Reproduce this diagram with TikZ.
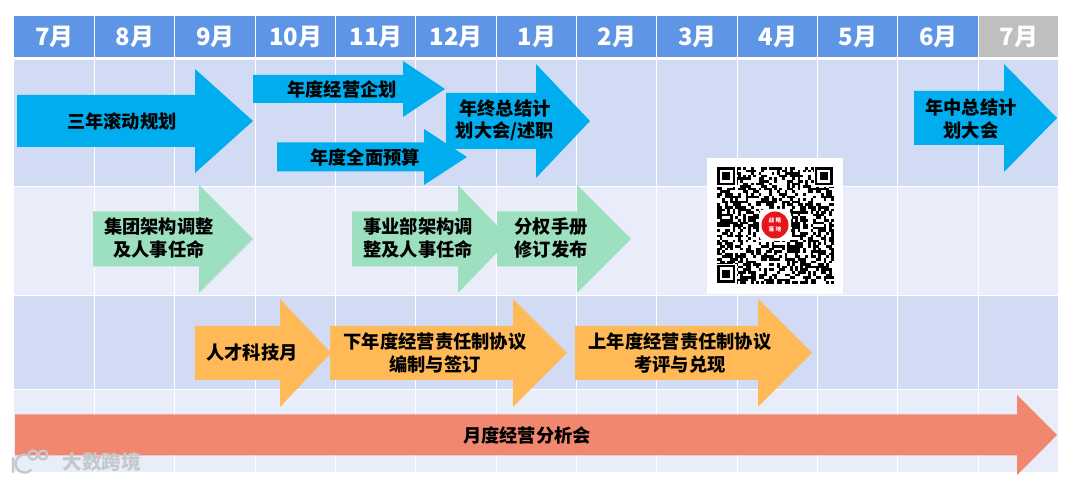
\documentclass[tikz,border=0pt]{standalone}
\usepackage{fontspec}
\setmainfont{Noto Sans CJK SC}
\usetikzlibrary{calc}
\definecolor{headblue}{HTML}{5F95E5}
\definecolor{headgray}{HTML}{BFBFBF}
\definecolor{rowdark}{HTML}{D1DBF3}
\definecolor{rowlight}{HTML}{E9EDF9}
\definecolor{arrowblue}{HTML}{00AEEF}
\definecolor{arrowgreen}{HTML}{9CE0C0}
\definecolor{arroworange}{HTML}{FFB957}
\definecolor{arrowred}{HTML}{F2876F}
\definecolor{sealred}{HTML}{E8141C}
\definecolor{markgray}{HTML}{C4C7CC}
\tikzset{
  monthlabel/.style={text=white,font=\fontsize{13.6}{15}\selectfont\bfseries,inner sep=0pt},
  arrowlabel/.style={text=black,font=\fontsize{10.4}{12.6}\selectfont\bfseries,align=center,inner sep=0pt},
  gridline/.style={draw=white,line width=.6pt}
}
% x0, neck, tip, middle, half body, half head
\newcommand{\bigarrow}[7]{\fill[#1] (#2,#5-#6) -- (#3,#5-#6) -- (#3,#5-#7) -- (#4,#5) -- (#3,#5+#7) -- (#3,#5+#6) -- (#2,#5+#6) -- cycle;}
\begin{document}
\begin{tikzpicture}[x=0.02cm,y=-0.02cm]
\useasboundingbox (0,0) rectangle (1080,482);
% rows
\fill[rowdark] (14,60) rectangle (1058,186); \fill[rowlight] (14,187) rectangle (1058,295);
\fill[rowdark] (14,296) rectangle (1058,389); \fill[rowlight] (14,390) rectangle (1058,472);
% months
\foreach \m [count=\i from 0] in {7,8,9,10,11,12,1,2,3,4,5,6,7}{
  \pgfmathsetmacro{\xl}{14+80.35*\i}
  \ifnum\i=12 \fill[headgray] (\xl,16) rectangle (1058,57); \else \fill[headblue] (\xl,16) rectangle (\xl+80.35,57); \fi
  \node[monthlabel] (month\i) at (\xl+40.6,37) {\m 月};
  \ifnum\i>0 \draw[gridline] (\xl,16) -- (\xl,57); \draw[gridline] (\xl,60) -- (\xl,472); \fi
}
% blue
\bigarrow{arrowblue}{17}{195}{253}{121}{26}{52}
\bigarrow{arrowblue}{253}{403}{445}{89}{14}{28}
\bigarrow{arrowblue}{446}{536}{590}{121}{28}{57}
\bigarrow{arrowblue}{277}{424}{467}{157}{14.5}{28}
\bigarrow{arrowblue}{914}{1004}{1057}{118}{27}{54}
\node[arrowlabel] (plan) at (122,121) {三年滚动规划};
\node[arrowlabel] (bizplan) at (342,89) {年度经营企划};
\node[arrowlabel] (budget) at (365,158) {年度全面预算};
\node[arrowlabel] (yearend) at (505,120) {年终总结计\\划大会/述职};
\node[arrowlabel] (midyear) at (971,119) {年中总结计\\划大会};
% green
\bigarrow{arrowgreen}{93}{199}{253}{239}{27.5}{54}
\bigarrow{arrowgreen}{352}{458}{510}{239}{27.5}{54}
\bigarrow{arrowgreen}{497}{577}{631}{239}{27.5}{54}
\node[arrowlabel] (grouporg) at (159,238) {集团架构调整\\及人事任命};
\node[arrowlabel] (unitorg) at (418,238) {事业部架构调\\整及人事任命};
\node[arrowlabel] (manual) at (551,238) {分权手册\\修订发布};
% orange
\bigarrow{arroworange}{195}{280}{331}{353}{27}{54}
\bigarrow{arroworange}{330}{513}{567}{353}{27}{54}
\bigarrow{arroworange}{575}{758}{812}{353}{27}{54}
\node[arrowlabel] (talent) at (252,353) {人才科技月};
\node[arrowlabel] (nextyear) at (435,353) {下年度经营责任制协议\\编制与签订};
\node[arrowlabel] (lastyear) at (680,353) {上年度经营责任制协议\\考评与兑现};
% red
\bigarrow{arrowred}{15}{1017}{1057}{435}{20.5}{40}
\node[arrowlabel] (monthly) at (527,436) {月度经营分析会};
% qr
\fill[white] (707,158) rectangle (843,294);
\pgfmathsetseed{41}
\foreach \i in {0,...,44}{\foreach \j in {0,...,44}{
  \pgfmathparse{rnd<.52?1:0}
  \ifnum\pgfmathresult=1 \fill[black] (717+2.6*\i,167+2.6*\j) rectangle +(2.7,2.7); \fi
}}
\foreach \qx/\qy in {717/167,814.8/167,717/264.8}{
  \fill[white] (\qx-1,\qy-1) rectangle +(20.8,20.8);
  \fill[black] (\qx,\qy) rectangle +(18.2,18.2);
  \fill[white] (\qx+2.6,\qy+2.6) rectangle +(13,13);
  \fill[black] (\qx+5.2,\qy+5.2) rectangle +(7.8,7.8);
}
\fill[white,rounded corners=3pt] (759,209) rectangle (791,241);
\fill[sealred] (775,225) circle (13.5);
\node[text=white,font=\fontsize{3.2}{5.3}\selectfont\bfseries,align=center,inner sep=0pt] (seal) at (775,225) {战\hspace{.8pt}略\\落\hspace{.8pt}地};
% watermark
\draw[markgray,line width=1.3pt,line cap=round] (13,458) -- (13,472) (31,470) arc (45:290:9) (33,455) circle (4.5) (43,455) circle (4.5);
\node[text=markgray,font=\fontsize{11.2}{13}\selectfont\bfseries,inner sep=0pt,anchor=west] (mark) at (62,462) {大数跨境};
\end{tikzpicture}
\end{document}
